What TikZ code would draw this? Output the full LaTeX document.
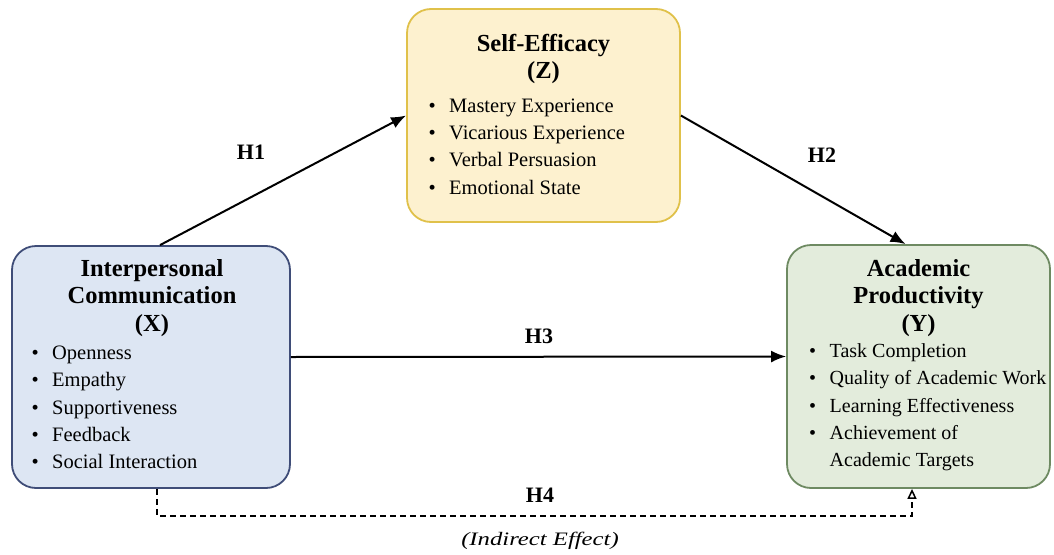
\documentclass[tikz,border=0pt]{standalone}
\usepackage{fontspec}
\setmainfont{Liberation Serif}
\usetikzlibrary{arrows.meta}
\definecolor{xfill}{HTML}{DDE6F3}
\definecolor{xdraw}{HTML}{3F4D78}
\definecolor{zfill}{HTML}{FDF1CF}
\definecolor{zdraw}{HTML}{E0C14A}
\definecolor{yfill}{HTML}{E3ECDC}
\definecolor{ydraw}{HTML}{6E8A62}
\newcommand\bul{\makebox[20.5pt][l]{\textbullet}}
\newcommand\nobul{\hspace*{20.5pt}}
\begin{document}
\begin{tikzpicture}[x=1pt,y=-1pt,
  box/.style={rectangle, rounded corners=24pt, line width=1.8pt, inner sep=0pt},
  ttl/.style={align=center, inner sep=0pt, font=\fontsize{24.5}{27.2}\selectfont\bfseries},
  items/.style={align=left, inner sep=0pt, anchor=west, font=\fontsize{20.5}{27.3}\selectfont},
  hlab/.style={inner sep=0pt, font=\fontsize{22}{24}\selectfont\bfseries},
  arr/.style={-{Latex[length=15pt,width=12pt]}, line width=2pt},
  darr/.style={-{Triangle[open,length=10pt,width=9pt]}, line width=1.5pt, dash pattern=on 6pt off 4pt}
]
\useasboundingbox[fill=white] (0,0) rectangle (1054,554);

\node[box, fill=xfill, draw=xdraw, minimum width=278pt, minimum height=242pt] (X) at (151,367) {};
\node[box, fill=zfill, draw=zdraw, minimum width=273pt, minimum height=213pt] (Z) at (543.5,115.5) {};
\node[box, fill=yfill, draw=ydraw, minimum width=263pt, minimum height=243pt] (Y) at (918.5,366.5) {};

\node[ttl] (Xt) at (152,298) {Interpersonal\\Communication\\(X)};
\node[items] (Xi) at (31.5,407.5) {\bul Openness\\\bul Empathy\\\bul Supportiveness\\\bul Feedback\\\bul Social Interaction};

\node[ttl] (Zt) at (543.5,59) {Self-Efficacy\\(Z)};
\node[items] (Zi) at (428.5,146.5) {\bul Mastery Experience\\\bul Vicarious Experience\\\bul Verbal Persuasion\\\bul Emotional State};

\node[ttl] (Yt) at (918.5,298) {Academic\\Productivity\\(Y)};
\node[items, font=\fontsize{20}{27.3}\selectfont] (Yi) at (809,407.5) {\bul Task Completion\\\bul Quality of Academic Work\\\bul Learning Effectiveness\\\bul Achievement of\\\nobul Academic Targets};

\draw[arr] ([xshift=9pt]X.north) -- (Z.west);
\draw[arr] (Z.east) -- ([xshift=-13pt]Y.north);
\draw[arr] ([yshift=10pt]X.east) -- ([yshift=10pt]Y.west);
\draw[darr] ([xshift=6pt]X.south) -- ++(0,27) -| ([xshift=-6.5pt]Y.south);

\node[hlab] (h1) at (251,152) {H1};
\node[hlab] (h2) at (822,155) {H2};
\node[hlab] (h3) at (539,336) {H3};
\node[hlab] (h4) at (540,495) {H4};
\node[inner sep=0pt, font=\fontsize{19}{20}\selectfont\itshape] (ie) at (540,541) {\scalebox{1.3}[1]{(Indirect Effect)}};
\end{tikzpicture}
\end{document}
